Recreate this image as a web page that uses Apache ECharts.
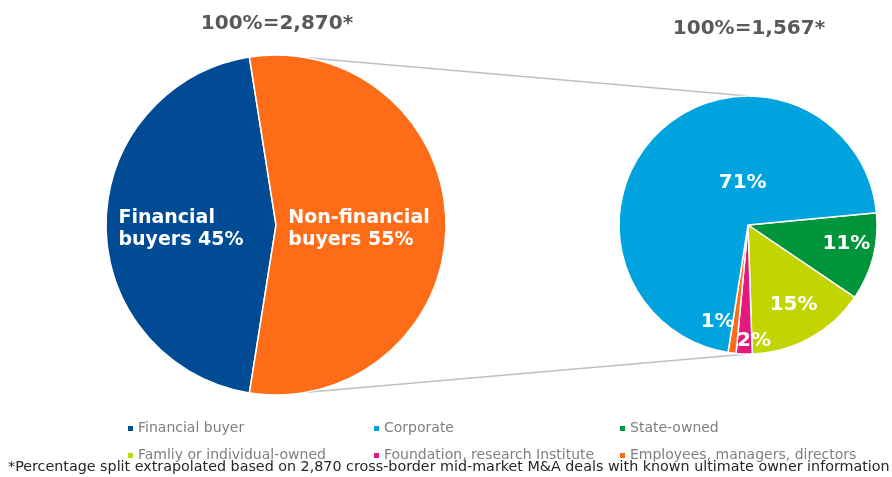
<!DOCTYPE html>
<html>
<head>
<meta charset="utf-8">
<script src="https://cdn.jsdelivr.net/npm/echarts@6/dist/echarts.min.js"></script>
<style>
  html, body { margin: 0; padding: 0; background: #ffffff; }
  #chart { width: 892px; height: 477px; }
</style>
</head>
<body>
<div id="chart"></div>
<script>
// Buyer split of all deals (left pie)
const mainCategories = ['Financial buyer', 'Non-financial buyers'];
const mainLabels = ['Financial\nbuyers', 'Non-financial\nbuyers'];
const mainShares = [45, 55];

// Breakdown of non-financial buyers (right pie), clockwise from the top-right
const ownerCategories = ['State-owned', 'Famliy or individual-owned', 'Foundation, research Institute', 'Employees, managers, directors', 'Corporate'];
const ownerShares = [11, 15, 2, 1, 71];

// Totals shown above each pie
const pieTotals = ['2,870', '1,567'];

// Legend entries in display order
const legendOrder = ['Financial buyer', 'Corporate', 'State-owned', 'Famliy or individual-owned', 'Foundation, research Institute', 'Employees, managers, directors'];

const footnote = '*Percentage split extrapolated based on 2,870 cross-border mid-market M&A deals with known ultimate owner information';

// ---- styling ----
const FONT = '"DejaVu Sans", Verdana, sans-serif';
const colors = {
  'Financial buyer': '#004B93',
  'Non-financial buyers': '#FF6C17',
  'Corporate': '#00A3DE',
  'State-owned': '#00953A',
  'Famliy or individual-owned': '#C2D500',
  'Foundation, research Institute': '#E5197D',
  'Employees, managers, directors': '#FF6C17'
};

const bigPie = { cx: 276, cy: 225, r: 170 };
const smallPie = { cx: 748, cy: 225, r: 129 };

// label nudges for the right pie (same order as ownerCategories)
const ownerLabelOffsets = [[33, 2], [13, 21], [8, 48], [-22, 30], [41, 7]];
const mainLabelOffsets = [[-7, 4], [-5, 4]];

const chart = echarts.init(document.getElementById('chart'), null, { renderer: 'canvas' });

// connector lines from the split pie to the breakdown pie
const joinAngle = 79.5 * Math.PI / 180;
const bigTop = [bigPie.cx + bigPie.r * Math.cos(joinAngle), bigPie.cy - bigPie.r * Math.sin(joinAngle)];
const bigBottom = [bigTop[0], bigPie.cy + bigPie.r * Math.sin(joinAngle)];
const smallTop = [smallPie.cx, smallPie.cy - smallPie.r];
const smallBottom = [smallPie.cx, smallPie.cy + smallPie.r];

const option = {
  animation: false,
  title: [
    {
      text: '100%=' + pieTotals[0] + '*',
      left: 272, top: 9, textAlign: 'center',
      textStyle: { fontFamily: FONT, fontSize: 20, fontWeight: 'bold', color: '#595959' }
    },
    {
      text: '100%=' + pieTotals[1] + '*',
      left: 744, top: 14, textAlign: 'center',
      textStyle: { fontFamily: FONT, fontSize: 20, fontWeight: 'bold', color: '#595959' }
    }
  ],
  legend: {
    data: legendOrder,
    left: 128, top: 418,
    width: 760,
    padding: 0,
    icon: 'rect',
    itemWidth: 5, itemHeight: 5, itemGap: 6,
    itemStyle: { borderWidth: 0 },
    selectedMode: false,
    textStyle: { fontFamily: FONT, fontSize: 14, color: '#7F7F7F', width: 230, lineHeight: 21, overflow: 'none' }
  },
  graphic: [
    { type: 'line', z: 1, shape: { x1: bigTop[0], y1: bigTop[1], x2: smallTop[0], y2: smallTop[1] }, style: { stroke: '#BFBFBF', lineWidth: 1.5 } },
    { type: 'line', z: 1, shape: { x1: bigBottom[0], y1: bigBottom[1], x2: smallBottom[0], y2: smallBottom[1] }, style: { stroke: '#BFBFBF', lineWidth: 1.5 } },
    { type: 'text', left: 8, top: 460, z: 5, style: { text: footnote, fontFamily: FONT, fontSize: 14.3, fill: '#262626' } }
  ],
  series: [
    {
      name: 'Buyers',
      type: 'pie',
      z: 3,
      center: [bigPie.cx, bigPie.cy],
      radius: [0, bigPie.r],
      startAngle: 261,
      clockwise: true,
      avoidLabelOverlap: false,
      silent: true,
      itemStyle: { borderColor: '#ffffff', borderWidth: 1.5 },
      labelLine: { show: false },
      data: mainCategories.map((name, i) => ({
        name: name,
        value: mainShares[i],
        itemStyle: { color: colors[name] },
        label: {
          show: true,
          position: 'inside',
          offset: mainLabelOffsets[i],
          formatter: p => mainLabels[i].split('\n').map((line, k, arr) =>
            '{t|' + line + (k === arr.length - 1 ? ' ' + p.value + '%' : '') + '}').join('\n'),
          rich: { t: { fontFamily: FONT, fontSize: 19, fontWeight: 'bold', color: '#ffffff', lineHeight: 22, align: 'left' } }
        }
      }))
    },
    {
      name: 'Non-financial buyers',
      type: 'pie',
      z: 3,
      center: [smallPie.cx, smallPie.cy],
      radius: [0, smallPie.r],
      startAngle: 5.5,
      clockwise: true,
      avoidLabelOverlap: false,
      silent: true,
      itemStyle: { borderColor: '#ffffff', borderWidth: 1.5 },
      labelLine: { show: false },
      data: ownerCategories.map((name, i) => ({
        name: name,
        value: ownerShares[i],
        itemStyle: { color: colors[name] },
        label: {
          show: true,
          position: 'inside',
          offset: ownerLabelOffsets[i],
          formatter: '{c}%',
          fontFamily: FONT, fontSize: 20, fontWeight: 'bold', color: '#ffffff'
        }
      }))
    }
  ]
};

chart.setOption(option);
</script>
</body>
</html>
